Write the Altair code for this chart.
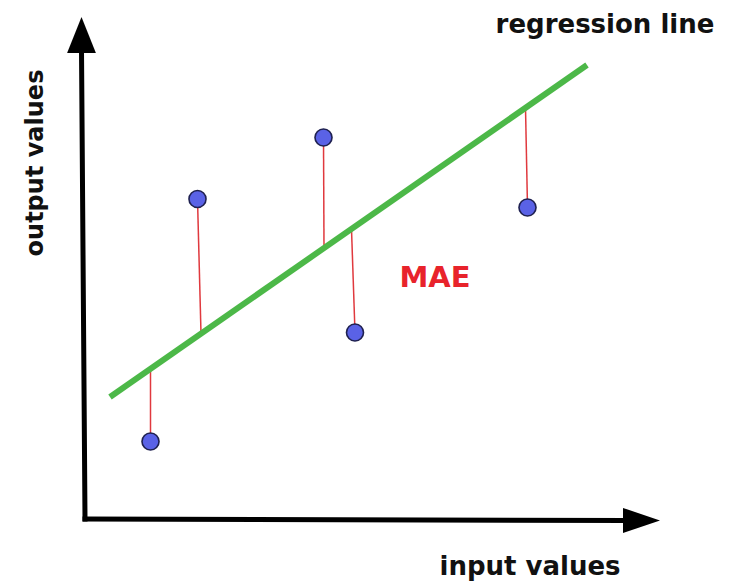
import altair as alt
import pandas as pd

# Observed points (input value, output value)
pt_x = [1.31, 2.25, 4.77, 5.40, 8.85]
pt_y = [1.55, 6.40, 7.63, 3.73, 6.23]
# Foot of each residual on the regression line
foot_x = [1.31, 2.32, 4.78, 5.33, 8.81]
foot_y = [2.98, 3.71, 5.42, 5.80, 8.23]
# Regression line end points
reg_x = [0.50, 10.04]
reg_y = [2.44, 9.08]
# Axis arrows
yaxis_x = [0.0, -0.07]
yaxis_y = [0.0, 9.38]
xaxis_x = [0.0, 10.80]
xaxis_y = [0.0, -0.03]
yhead = [-0.07, 9.68]
xhead = [11.13, -0.03]
# Labels
lab_reg = ["regression line", 10.40, 9.72]
lab_in = ["input values", 8.90, -1.12]
lab_out = ["output values", -0.84, 7.12]
lab_mae = ["MAE", 7.00, 4.64]

XD = [-1.54, 12.72]
YD = [-1.24, 10.22]
FONT = "DejaVu Sans"


def X(f="x"):
    return alt.X(f"{f}:Q", scale=alt.Scale(domain=XD, nice=False, zero=False), axis=None)


def Y(f="y"):
    return alt.Y(f"{f}:Q", scale=alt.Scale(domain=YD, nice=False, zero=False), axis=None)


res = pd.DataFrame({"x": pt_x, "y": pt_y, "x2": foot_x, "y2": foot_y})
pts = pd.DataFrame({"x": pt_x, "y": pt_y})
reg = pd.DataFrame({"x": [reg_x[0]], "y": [reg_y[0]], "x2": [reg_x[1]], "y2": [reg_y[1]]})
axes = pd.DataFrame({
    "x": [yaxis_x[0], xaxis_x[0]], "y": [yaxis_y[0], xaxis_y[0]],
    "x2": [yaxis_x[1], xaxis_x[1]], "y2": [yaxis_y[1], xaxis_y[1]],
})

axis_layer = alt.Chart(axes).mark_rule(color="black", strokeWidth=5, strokeCap="square").encode(
    x=X(), y=Y(), x2="x2:Q", y2="y2:Q")

yhead_layer = alt.Chart(pd.DataFrame({"x": [yhead[0]], "y": [yhead[1]]})).mark_point(
    shape="M0,-1L0.8,1L-0.8,1Z", size=36 * 36, filled=True, color="black", opacity=1
).encode(x=X(), y=Y())

xhead_layer = alt.Chart(pd.DataFrame({"x": [xhead[0]], "y": [xhead[1]]})).mark_point(
    shape="M1,0L-1,0.68L-1,-0.68Z", size=37 * 37, filled=True, color="black", opacity=1
).encode(x=X(), y=Y())

res_layer = alt.Chart(res).mark_rule(color="#e0393e", strokeWidth=1.5).encode(
    x=X(), y=Y(), x2="x2:Q", y2="y2:Q")

reg_layer = alt.Chart(reg).mark_rule(color="#4cb848", strokeWidth=6, strokeCap="butt").encode(
    x=X(), y=Y(), x2="x2:Q", y2="y2:Q")

pt_layer = alt.Chart(pts).mark_circle(
    size=290, color="#5a62e6", opacity=1, stroke="#1f2150", strokeWidth=1.6
).encode(x=X(), y=Y())


def label(row, size, color="#111111", angle=None):
    kw = dict(font=FONT, fontWeight="bold", fontSize=size, color=color,
              align="center", baseline="alphabetic")
    if angle is not None:
        kw["angle"] = angle
    return alt.Chart(pd.DataFrame({"t": [row[0]], "x": [row[1]], "y": [row[2]]})).mark_text(**kw).encode(
        x=X(), y=Y(), text="t:N")


chart = alt.layer(
    axis_layer, yhead_layer, xhead_layer, res_layer, reg_layer, pt_layer,
    label(lab_reg, 26), label(lab_in, 26), label(lab_out, 24, angle=270),
    label(lab_mae, 29, color="#e8232b"),
).properties(
    width=713, height=573, padding=0, autosize=alt.AutoSizeParams(type="none"), background="white"
).configure_view(stroke=None)

chart.save("out.html", embed_options={"renderer": "svg", "actions": False})
